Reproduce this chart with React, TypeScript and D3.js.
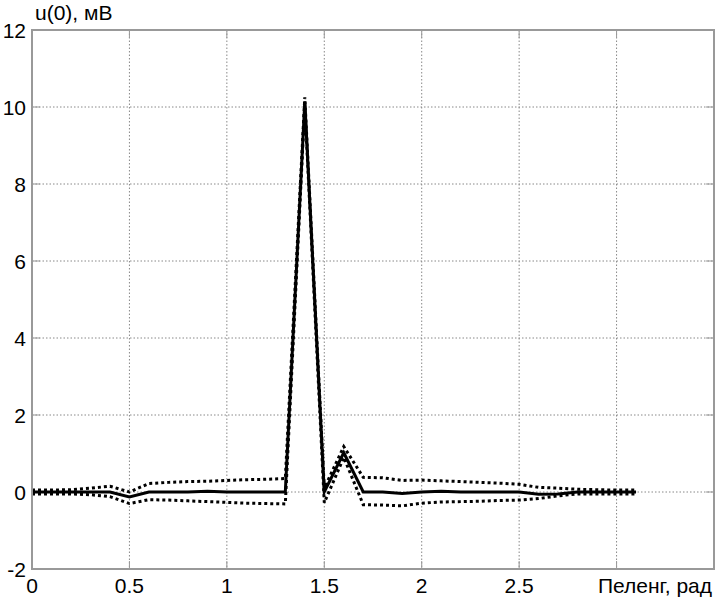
import React from "react";
import * as d3 from "d3";

// bearing, rad
const bearing = [
  0, 0.1, 0.2, 0.3, 0.4, 0.5, 0.6, 0.7, 0.8, 0.9, 1.0, 1.1, 1.2, 1.3, 1.4, 1.5,
  1.6, 1.7, 1.8, 1.9, 2.0, 2.1, 2.2, 2.3, 2.4, 2.5, 2.6, 2.7, 2.8, 2.9, 3.0, 3.1,
];

// mean output u(0), mV
const meanU = [
  0, 0, 0, 0, 0, -0.13, 0, 0, 0, 0.02, 0, 0, 0, 0, 10.15, 0,
  1.02, 0, 0, -0.04, 0, 0.02, 0, 0, 0, 0, -0.06, -0.05, 0, 0, 0, 0,
];

// upper and lower bounds (dotted)
const upperU = [
  0.05, 0.05, 0.06, 0.1, 0.15, 0.0, 0.22, 0.25, 0.27, 0.28, 0.3, 0.32, 0.33, 0.35, 10.25, 0.1,
  1.18, 0.38, 0.37, 0.3, 0.31, 0.29, 0.27, 0.25, 0.23, 0.2, 0.12, 0.1, 0.07, 0.06, 0.05, 0.05,
];
const lowerU = [
  -0.05, -0.05, -0.05, -0.07, -0.12, -0.3, -0.2, -0.21, -0.23, -0.25, -0.27, -0.29, -0.3, -0.31, 10.05, -0.28,
  0.9, -0.33, -0.34, -0.36, -0.29, -0.26, -0.25, -0.24, -0.22, -0.21, -0.17, -0.1, -0.05, -0.05, -0.05, -0.05,
];

const xGrid = [0, 0.5, 1, 1.5, 2, 2.5, 3, 3.5];
const xTickLabels = ["0", "0.5", "1", "1.5", "2", "2.5"];
const yGrid = [-2, 0, 2, 4, 6, 8, 10, 12];

const width = 715;
const height = 600;
const left = 32;
const top = 30;
const right = 714;
const bottom = 569;
const font = "'Liberation Sans', Arial, sans-serif";
const fs = 21;

export default function App() {
  const x = d3.scaleLinear().domain([0, 3.5]).range([left, right]);
  const y = d3.scaleLinear().domain([-2, 12]).range([bottom, top]);

  const line = d3
    .line<number>()
    .x((_, i) => x(bearing[i]))
    .y((d) => y(d));

  const tickLen = 8;

  return (
    <div style={{ position: "fixed", left: 0, top: 0 }}>
      <svg width={width} height={height} style={{ display: "block", background: "#fff" }}>
        {/* grid */}
        {xGrid.slice(1, -1).map((t) => (
          <line key={"gx" + t} x1={x(t)} x2={x(t)} y1={top} y2={bottom}
            stroke="#888" strokeWidth={1} strokeDasharray="1.5 2" />
        ))}
        {yGrid.slice(1, -1).map((t) => (
          <line key={"gy" + t} x1={left} x2={right} y1={y(t)} y2={y(t)}
            stroke="#888" strokeWidth={1} strokeDasharray="1.5 2" />
        ))}

        {/* ticks inside the box */}
        {xGrid.slice(1, -1).map((t) => (
          <g key={"tx" + t} stroke="#999" strokeWidth={1}>
            <line x1={x(t)} x2={x(t)} y1={bottom} y2={bottom - tickLen} />
            <line x1={x(t)} x2={x(t)} y1={top} y2={top + tickLen} />
          </g>
        ))}
        {yGrid.slice(1, -1).map((t) => (
          <g key={"ty" + t} stroke="#999" strokeWidth={1}>
            <line x1={left} x2={left + tickLen} y1={y(t)} y2={y(t)} />
            <line x1={right} x2={right - tickLen} y1={y(t)} y2={y(t)} />
          </g>
        ))}

        {/* data */}
        <path d={line(upperU) ?? ""} fill="none" stroke="#000" strokeWidth={3}
          strokeDasharray="3 3" />
        <path d={line(lowerU) ?? ""} fill="none" stroke="#000" strokeWidth={3}
          strokeDasharray="3 3" />
        <path d={line(meanU) ?? ""} fill="none" stroke="#000" strokeWidth={3}
          strokeLinejoin="miter" />

        {/* box */}
        <rect x={left} y={top} width={right - left} height={bottom - top}
          fill="none" stroke="#999" strokeWidth={2} />

        {/* tick labels */}
        {yGrid.map((t) => (
          <text key={"ly" + t} x={left - 6} y={y(t)} dy="0.36em" textAnchor="end"
            fontFamily={font} fontSize={fs} fill="#000">
            {t}
          </text>
        ))}
        {xTickLabels.map((s) => (
          <text key={"lx" + s} x={x(+s)} y={593} textAnchor="middle"
            fontFamily={font} fontSize={fs} fill="#000">
            {s}
          </text>
        ))}

        {/* axis titles */}
        <text x={35} y={20} fontFamily={font} fontSize={fs} fill="#000">
          u(0), мВ
        </text>
        <text x={712} y={593} textAnchor="end" fontFamily={font} fontSize={fs} fill="#000">
          Пеленг, рад
        </text>
      </svg>
    </div>
  );
}
